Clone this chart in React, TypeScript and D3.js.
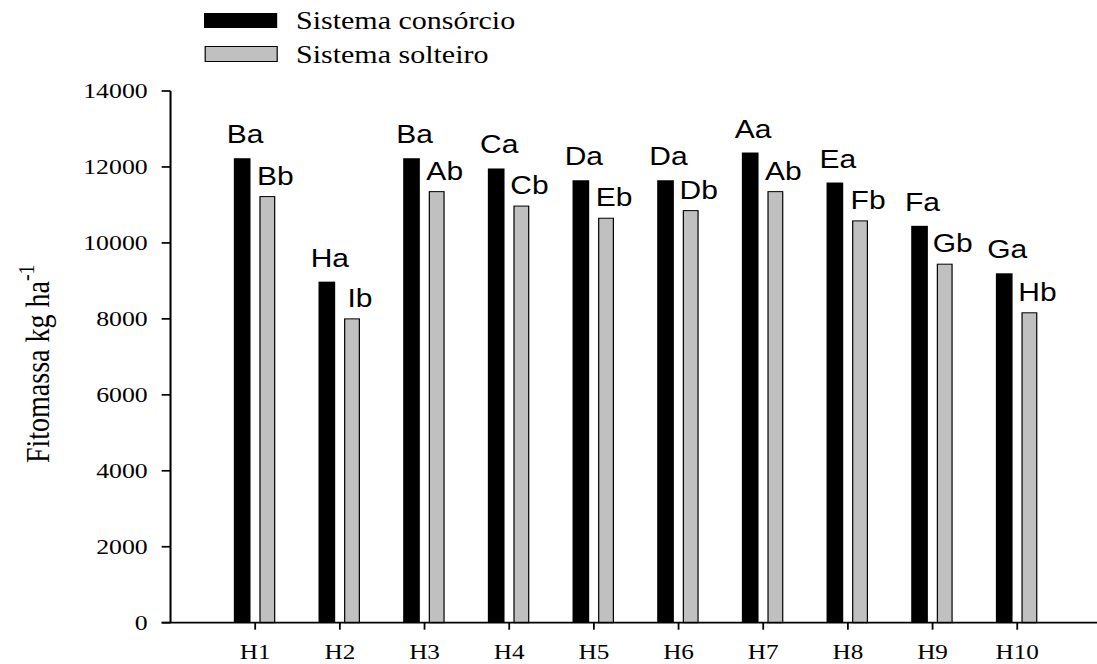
import React from "react";
import * as d3 from "d3";

// Hybrid categories and fitomass values (kg/ha) for the two cropping systems
const hybrids = ["H1", "H2", "H3", "H4", "H5", "H6", "H7", "H8", "H9", "H10"];
const consorcio = [12230, 8980, 12230, 11960, 11650, 11650, 12380, 11590, 10450, 9200];
const solteiro = [11220, 8000, 11350, 10970, 10650, 10850, 11350, 10580, 9440, 8160];
const consorcioLetters = ["Ba", "Ha", "Ba", "Ca", "Da", "Da", "Aa", "Ea", "Fa", "Ga"];
const solteiroLetters = ["Bb", "Ib", "Ab", "Cb", "Eb", "Db", "Ab", "Fb", "Gb", "Hb"];
const yTicks = [0, 2000, 4000, 6000, 8000, 10000, 12000, 14000];
const seriesNames = ["Sistema consórcio", "Sistema solteiro"];

const W = 1097;
const H = 664;
const STRETCH = 1.2; // drawing is widened horizontally
const IW = W / STRETCH;

const SERIF = "'Liberation Serif', 'Times New Roman', serif";
const SANS = "'Liberation Sans', Arial, sans-serif";

export default function App() {
  const axisX = 142.1;
  const step = 70.56;
  const x = d3.scaleLinear().domain([0, 11]).range([axisX, axisX + 11 * step]);
  const y = d3.scaleLinear().domain([0, 14000]).range([622.7, 91]);
  const y0 = y(0);

  const blackOff = -17.8;
  const blackW = 13.9;
  const grayOff = 4.0;
  const grayW = 12.25;

  return (
    <svg
      width={W}
      height={H}
      viewBox={`0 0 ${IW} ${H}`}
      preserveAspectRatio="none"
      style={{ position: "absolute", left: 0, top: 0, background: "#fff" }}
    >
      {/* legend */}
      <rect x={170} y={13} width={61} height={15} fill="#000" />
      <rect x={171} y={46.5} width={60} height={15} fill="#c0c0c0" stroke="#000" strokeWidth={1} />
      <text x={246.7} y={29} fontFamily={SERIF} fontSize={25} fill="#000">{seriesNames[0]}</text>
      <text x={246.7} y={63} fontFamily={SERIF} fontSize={25} fill="#000">{seriesNames[1]}</text>

      {/* bars */}
      {hybrids.map((h, i) => {
        const c = x(i + 1);
        return (
          <g key={h}>
            <rect x={c + blackOff} y={y(consorcio[i])} width={blackW} height={y0 - y(consorcio[i])} fill="#000" />
            <rect
              x={c + grayOff}
              y={y(solteiro[i])}
              width={grayW}
              height={y0 - y(solteiro[i])}
              fill="#c0c0c0"
              stroke="#000"
              strokeWidth={1}
            />
            <text
              x={c + blackOff + blackW / 2 + 2.5}
              y={y(consorcio[i]) - 15}
              textAnchor="middle"
              fontFamily={SANS}
              fontSize={25}
              fill="#000"
            >
              {consorcioLetters[i]}
            </text>
            <text
              x={c + grayOff + grayW / 2 + 6.7}
              y={y(solteiro[i]) - 12}
              textAnchor="middle"
              fontFamily={SANS}
              fontSize={25}
              fill="#000"
            >
              {solteiroLetters[i]}
            </text>
          </g>
        );
      })}

      {/* y axis */}
      <line x1={axisX} x2={axisX} y1={y(14000)} y2={y0} stroke="#000" strokeWidth={1.7} />
      {yTicks.map((t) => (
        <g key={t}>
          <line x1={axisX - 7.4} x2={axisX} y1={y(t)} y2={y(t)} stroke="#000" strokeWidth={1.7} />
          <text
            x={123.1}
            y={y(t)}
            dy="0.34em"
            textAnchor="end"
            fontFamily={SERIF}
            fontSize={21.5}
            fill="#000"
          >
            {t}
          </text>
        </g>
      ))}

      {/* x axis */}
      <line x1={axisX - 7.4} x2={x(11)} y1={y0} y2={y0} stroke="#000" strokeWidth={1.7} />
      {hybrids.map((h, i) => (
        <g key={h}>
          <line x1={x(i + 1)} x2={x(i + 1)} y1={y0} y2={y0 + 7} stroke="#000" strokeWidth={1.5} />
          <text x={x(i + 1)} y={659} textAnchor="middle" fontFamily={SERIF} fontSize={21} fill="#000">
            {h}
          </text>
        </g>
      ))}

      {/* y axis title */}
      <text
        transform="translate(41,463) rotate(-90)"
        fontFamily={SERIF}
        fontSize={28}
        fill="#000"
      >
        Fitomassa kg ha
        <tspan fontSize={20} dy={-13}>-1</tspan>
      </text>
    </svg>
  );
}
